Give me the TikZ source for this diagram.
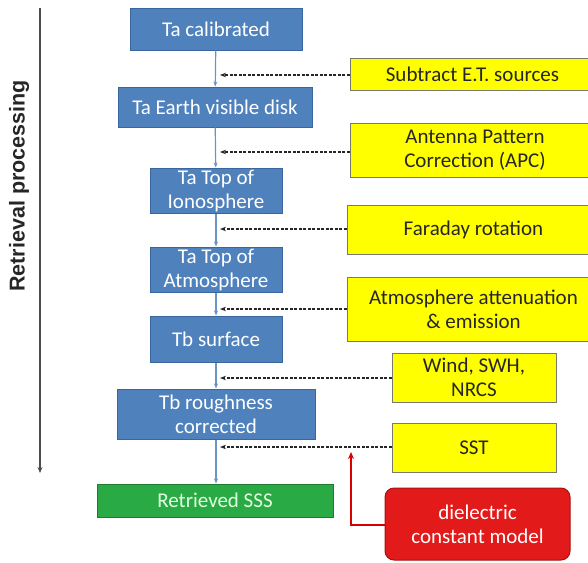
\documentclass[tikz,border=0pt]{standalone}
\usepackage{fontspec}
\setmainfont{Carlito}
\newfontfamily\axisfont{Liberation Sans}
\usetikzlibrary{arrows.meta}
\definecolor{bluefill}{HTML}{4F81BD}
\definecolor{blueedge}{HTML}{3A66A0}
\definecolor{greenfill}{HTML}{2AAA45}
\definecolor{greenedge}{HTML}{1F7A33}
\definecolor{yellowfill}{HTML}{FFFF00}
\definecolor{yellowedge}{HTML}{7A7A6A}
\definecolor{redfill}{HTML}{E21A1A}
\definecolor{rededge}{HTML}{A81010}
\definecolor{textdark}{HTML}{262626}
\tikzset{
  box/.style={draw, line width=1pt, inner sep=0pt, align=center,
    font=\fontsize{21}{24}\selectfont},
  bluebox/.style={box, fill=bluefill, draw=blueedge, text=white},
  greenbox/.style={box, fill=greenfill, draw=greenedge, text=white!88!green},
  yellowbox/.style={box, fill=yellowfill, draw=yellowedge, text=textdark},
  redbox/.style={box, fill=redfill, draw=rededge, text=white, rounded corners=9pt},
  flow/.style={draw=bluefill!85!white, line width=1.2pt, -{Stealth[length=5pt,width=4pt]}},
  feed/.style={draw=black!85, line width=1.1pt, dash pattern=on 3pt off 1.5pt,
    -{Stealth[length=6pt,width=4.5pt]}},
  redarrow/.style={draw=red!85!black, line width=1.3pt, -{Stealth[length=7pt,width=6pt]}},
  axis/.style={draw=black!70, line width=1.3pt, -{Stealth[length=6pt,width=5pt]}}
}
\begin{document}
\begin{tikzpicture}[x=1pt,y=-1pt]
\useasboundingbox (0,0) rectangle (588,562);
\clip (0,0) rectangle (588,562);
% blue chain
\node[bluebox, minimum width=172pt, minimum height=42pt] (b1) at (216,29) {Ta calibrated};
\node[bluebox, minimum width=194pt, minimum height=40pt] (b2) at (215,107) {Ta Earth visible disk};
\node[bluebox, minimum width=132pt, minimum height=45pt] (b3) at (216,190.5) {Ta Top of\\Ionosphere};
\node[bluebox, minimum width=132pt, minimum height=45pt] (b4) at (216,269.5) {Ta Top of\\Atmosphere};
\node[bluebox, minimum width=132pt, minimum height=46pt] (b5) at (216,339) {Tb surface};
\node[bluebox, minimum width=198pt, minimum height=50pt] (b6) at (216,414) {Tb roughness\\corrected};
\node[greenbox, minimum width=236pt, minimum height=33pt] (sss) at (215,500.5) {Retrieved SSS};
% yellow inputs
\node[yellowbox, minimum width=250pt, minimum height=32pt] (y1) at (475,74) {\hspace*{-5pt}Subtract E.T. sources};
\node[yellowbox, minimum width=250pt, minimum height=54pt] (y2) at (475,150) {Antenna Pattern\\Correction (APC)};
\node[yellowbox, minimum width=253pt, minimum height=49pt] (y3) at (473.5,229.5) {Faraday rotation};
\node[yellowbox, minimum width=253pt, minimum height=64pt] (y4) at (473.5,309) {Atmosphere attenuation\\\& emission};
\node[yellowbox, minimum width=164pt, minimum height=49pt] (y5) at (474,377.5) {Wind, SWH,\\NRCS};
\node[yellowbox, minimum width=164pt, minimum height=49pt] (y6) at (474,447.5) {SST};
\node[redbox, minimum width=185pt, minimum height=72pt] (red) at (477.5,524) {dielectric\\constant model};
% flow
\draw[flow] (b1) -- (b2);
\draw[flow] (b2) -- (b3);
\draw[flow] (b3) -- (b4);
\draw[flow] (b4) -- (b5);
\draw[flow] (b5) -- (b6);
\draw[flow] (b6.south) -- (sss.north -| b6.south);
% feeds
\coordinate (f1) at (220,75);
\coordinate (f2) at (220,152);
\coordinate (f3) at (220,229);
\coordinate (f4) at (220,309);
\coordinate (f5) at (220,378);
\coordinate (f6) at (220,447);
\draw[feed] (y1.west |- f1) -- (f1);
\draw[feed] (y2.west |- f2) -- (f2);
\draw[feed] (y3.west |- f3) -- (f3);
\draw[feed] (y4.west |- f4) -- (f4);
\draw[feed] (y5.west |- f5) -- (f5);
\draw[feed] (y6.west |- f6) -- (f6);
% red arrow
\coordinate (rtip) at (351,452);
\draw[redarrow] (red.west |- 0,525) -| (rtip);
% axis
\coordinate (atop) at (40,8);
\coordinate (abot) at (40,473);
\draw[axis] (atop) -- (abot);
\node[rotate=90, font=\axisfont\bfseries\fontsize{21.5}{24}\selectfont, text=black!85] (lab) at (19,186) {Retrieval processing};
\end{tikzpicture}
\end{document}
